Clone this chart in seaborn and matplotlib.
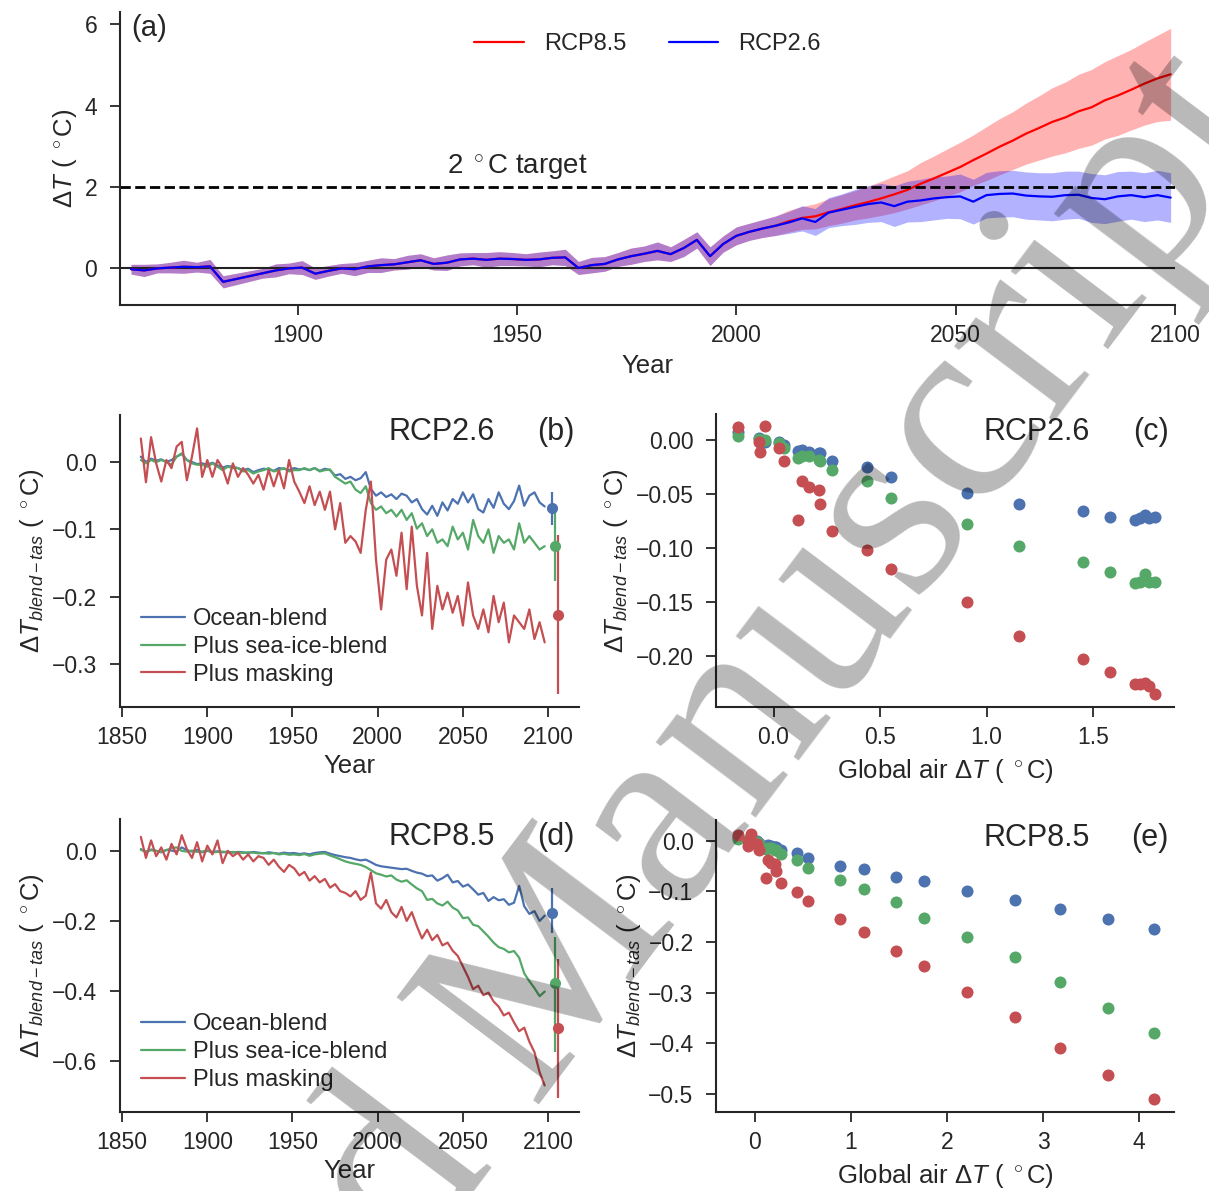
import numpy as np
import matplotlib
matplotlib.use('Agg')
import matplotlib.pyplot as plt
import seaborn as sns

# ---------------- data ----------------
# (a) global mean air temperature change, every 3rd year
years_a = np.arange(1862, 2101, 3)          # 1862 ... 2099
hist_mean = [-0.02, -0.05, 0.00, 0.02, 0.04, 0.03, 0.05, -0.33, -0.26, -0.19,
             -0.12, -0.05, 0.00, 0.02, -0.13, -0.06, 0.00, -0.02, 0.05, 0.08,
             0.10, 0.15, 0.20, 0.11, 0.14, 0.22, 0.24, 0.21, 0.24, 0.23,
             0.21, 0.22, 0.26, 0.27, 0.01, 0.08, 0.11, 0.22, 0.30, 0.36,
             0.43, 0.35, 0.50, 0.70, 0.30, 0.60, 0.80, 0.90, 0.98]
hist_spread = [0.12, 0.15, 0.11, 0.13, 0.16, 0.12, 0.17, 0.15, 0.14, 0.13,
               0.12, 0.16, 0.13, 0.17, 0.14, 0.13, 0.12, 0.16, 0.15, 0.18,
               0.14, 0.17, 0.16, 0.15, 0.19, 0.16, 0.15, 0.18, 0.17, 0.16,
               0.15, 0.18, 0.17, 0.20, 0.16, 0.19, 0.18, 0.17, 0.20, 0.19,
               0.22, 0.18, 0.21, 0.20, 0.23, 0.20, 0.22, 0.21, 0.22]
rcp85_mean = [1.05, 1.16, 1.24, 1.28, 1.38, 1.46, 1.55, 1.63, 1.72, 1.82,
              1.93, 2.08, 2.21, 2.35, 2.49, 2.66, 2.82, 2.99, 3.14, 3.31,
              3.45, 3.60, 3.71, 3.86, 3.96, 4.13, 4.25, 4.39, 4.54, 4.67, 4.77]
rcp85_spread = [0.24, 0.27, 0.28, 0.31, 0.33, 0.35, 0.36, 0.39, 0.42, 0.45,
                0.47, 0.52, 0.55, 0.58, 0.61, 0.62, 0.66, 0.69, 0.71, 0.75,
                0.79, 0.84, 0.87, 0.91, 0.93, 0.95, 0.98, 0.99, 1.02, 1.06, 1.13]
rcp26_mean = [1.05, 1.13, 1.23, 1.14, 1.37, 1.44, 1.51, 1.58, 1.62, 1.53,
              1.64, 1.67, 1.72, 1.75, 1.77, 1.64, 1.80, 1.83, 1.84, 1.79,
              1.77, 1.76, 1.80, 1.81, 1.73, 1.70, 1.77, 1.80, 1.75, 1.80, 1.74]
rcp26_spread = [0.24, 0.27, 0.31, 0.33, 0.37, 0.39, 0.43, 0.45, 0.47, 0.50,
                0.50, 0.52, 0.53, 0.52, 0.55, 0.55, 0.56, 0.57, 0.57, 0.58,
                0.58, 0.59, 0.59, 0.58, 0.60, 0.60, 0.61, 0.59, 0.60, 0.61, 0.61]

# (b), (d) blended minus air temperature, every 3rd year
years_bd = np.arange(1861, 2100, 3)         # 1861 ... 2098
labels_bd = ['Ocean-blend', 'Plus sea-ice-blend', 'Plus masking']
b_ocean = [0.008, 0.000, 0.005, 0.002, 0.004, 0.000, 0.003, 0.008, 0.012, 0.003,
           0.000, -0.003, -0.002, -0.004, -0.001, -0.005, -0.008, -0.006, -0.007, -0.009,
           -0.012, -0.010, -0.015, -0.012, -0.010, -0.011, -0.013, -0.009, -0.010, -0.012,
           -0.009, -0.011, -0.010, -0.012, -0.009, -0.013, -0.010, -0.012, -0.020, -0.018,
           -0.025, -0.022, -0.027, -0.024, -0.015, -0.040, -0.050, -0.045, -0.052, -0.048,
           -0.055, -0.047, -0.050, -0.060, -0.055, -0.070, -0.078, -0.065, -0.080, -0.060,
           -0.072, -0.055, -0.062, -0.045, -0.060, -0.048, -0.070, -0.075, -0.055, -0.068,
           -0.045, -0.062, -0.070, -0.058, -0.035, -0.065, -0.050, -0.045, -0.060, -0.066]
b_seaice = [0.003, -0.002, 0.003, 0.000, 0.003, 0.000, -0.004, 0.008, 0.013, 0.003,
            -0.002, -0.004, -0.004, -0.007, -0.002, -0.007, -0.012, -0.007, -0.009, -0.009,
            -0.014, -0.012, -0.017, -0.014, -0.012, -0.009, -0.014, -0.012, -0.009, -0.014,
            -0.012, -0.012, -0.009, -0.012, -0.009, -0.014, -0.012, -0.011, -0.022, -0.027,
            -0.032, -0.029, -0.041, -0.046, -0.036, -0.061, -0.071, -0.066, -0.076, -0.071,
            -0.081, -0.071, -0.086, -0.076, -0.099, -0.091, -0.110, -0.100, -0.120, -0.115,
            -0.125, -0.096, -0.115, -0.105, -0.130, -0.086, -0.110, -0.120, -0.100, -0.135,
            -0.110, -0.120, -0.115, -0.130, -0.091, -0.120, -0.110, -0.120, -0.130, -0.125]
b_mask = [0.035, -0.030, 0.037, -0.002, -0.029, 0.003, -0.009, 0.023, 0.030, -0.027,
          0.008, 0.050, -0.022, 0.003, -0.022, 0.003, -0.009, -0.032, -0.002, -0.022,
          -0.009, -0.019, -0.032, -0.019, -0.041, -0.012, -0.036, -0.012, -0.039, 0.003,
          -0.029, -0.044, -0.061, -0.036, -0.064, -0.044, -0.071, -0.044, -0.100, -0.061,
          -0.120, -0.110, -0.118, -0.135, -0.071, -0.029, -0.145, -0.219, -0.145, -0.130,
          -0.169, -0.105, -0.189, -0.096, -0.184, -0.228, -0.135, -0.248, -0.184, -0.219,
          -0.194, -0.224, -0.199, -0.243, -0.179, -0.228, -0.248, -0.219, -0.253, -0.199,
          -0.238, -0.209, -0.268, -0.228, -0.238, -0.248, -0.219, -0.263, -0.238, -0.268]
d_ocean = [0.005, -0.003, 0.004, 0.000, -0.004, 0.003, 0.001, -0.002, 0.010, 0.002,
           -0.002, 0.003, -0.004, 0.000, -0.003, -0.001, -0.004, -0.002, -0.005, -0.003,
           -0.004, -0.006, -0.003, -0.005, -0.007, -0.004, -0.006, -0.008, -0.005, -0.007,
           -0.006, -0.009, -0.007, -0.010, -0.006, -0.004, -0.003, -0.008, -0.012, -0.015,
           -0.018, -0.020, -0.024, -0.027, -0.025, -0.032, -0.040, -0.044, -0.046, -0.048,
           -0.050, -0.052, -0.051, -0.057, -0.062, -0.065, -0.072, -0.070, -0.085, -0.078,
           -0.068, -0.090, -0.086, -0.102, -0.096, -0.110, -0.125, -0.120, -0.143, -0.132,
           -0.141, -0.138, -0.154, -0.148, -0.100, -0.158, -0.180, -0.172, -0.200, -0.185]
d_seaice = [0.003, -0.002, 0.002, 0.000, -0.003, 0.002, 0.008, 0.010, 0.000, -0.002,
            0.001, -0.003, -0.002, 0.002, -0.004, -0.003, -0.002, -0.005, -0.003, -0.004,
            -0.006, -0.004, -0.005, -0.007, -0.006, -0.008, -0.006, -0.010, -0.008, -0.011,
            -0.010, -0.012, -0.009, -0.014, -0.010, -0.008, -0.007, -0.013, -0.018, -0.024,
            -0.030, -0.034, -0.037, -0.040, -0.046, -0.055, -0.064, -0.068, -0.073, -0.070,
            -0.082, -0.088, -0.084, -0.096, -0.107, -0.115, -0.140, -0.137, -0.150, -0.156,
            -0.145, -0.162, -0.170, -0.192, -0.190, -0.211, -0.215, -0.230, -0.245, -0.262,
            -0.275, -0.280, -0.290, -0.286, -0.305, -0.350, -0.372, -0.392, -0.415, -0.402]
d_mask = [0.040, -0.020, 0.030, -0.015, 0.010, -0.025, 0.020, -0.010, 0.045, 0.005,
          -0.020, 0.025, -0.030, 0.015, -0.010, 0.030, -0.035, 0.000, -0.015, -0.005,
          -0.025, -0.010, -0.030, -0.015, -0.020, -0.040, -0.025, -0.045, -0.060, -0.040,
          -0.050, -0.070, -0.060, -0.085, -0.072, -0.090, -0.080, -0.105, -0.095, -0.115,
          -0.120, -0.130, -0.115, -0.140, -0.128, -0.062, -0.150, -0.165, -0.140, -0.175,
          -0.190, -0.160, -0.200, -0.175, -0.215, -0.250, -0.225, -0.255, -0.240, -0.270,
          -0.262, -0.285, -0.300, -0.330, -0.360, -0.395, -0.385, -0.412, -0.405, -0.430,
          -0.445, -0.470, -0.462, -0.490, -0.515, -0.505, -0.545, -0.575, -0.632, -0.670]

# end-of-century mean and range (dot + bar right of the lines)
end_x = [2102, 2104, 2106]
b_end = [-0.069, -0.125, -0.227]
b_end_lo = [0.024, 0.052, 0.117]
b_end_hi = [0.024, 0.054, 0.119]
d_end = [-0.176, -0.378, -0.507]
d_end_lo = [0.059, 0.197, 0.200]
d_end_hi = [0.069, 0.133, 0.198]

# (c), (e) decadal means against global air warming
hist_x = [-0.168, -0.067, -0.064, -0.042, 0.027, 0.049, 0.115, 0.135, 0.168, 0.212, 0.220, 0.275, 0.441, 0.552]
hist_ocean = [0.008, 0.002, 0.000, -0.001, -0.001, -0.004, -0.010, -0.009, -0.0105, -0.012, -0.012, -0.019, -0.025, -0.0335]
hist_seaice = [0.004, 0.001, -0.001, 0.000, -0.002, -0.007, -0.016, -0.0145, -0.014, -0.018, -0.019, -0.027, -0.0377, -0.053]
hist_mask = [0.012, -0.001, -0.011, 0.013, -0.007, -0.019, -0.074, -0.038, -0.0435, -0.046, -0.059, -0.084, -0.1016, -0.119]
c_x = [0.910, 1.154, 1.455, 1.582, 1.697, 1.720, 1.742, 1.763, 1.789]
c_ocean = [-0.049, -0.059, -0.0654, -0.0713, -0.0735, -0.072, -0.069, -0.0715, -0.071]
c_seaice = [-0.0778, -0.0975, -0.113, -0.122, -0.132, -0.131, -0.124, -0.131, -0.1315]
c_mask = [-0.150, -0.181, -0.203, -0.215, -0.226, -0.226, -0.225, -0.228, -0.235]
e_x = [0.885, 1.14, 1.468, 1.766, 2.21, 2.71, 3.18, 3.67, 4.15]
e_ocean = [-0.049, -0.056, -0.071, -0.0805, -0.100, -0.118, -0.135, -0.154, -0.174]
e_seaice = [-0.078, -0.095, -0.121, -0.152, -0.191, -0.230, -0.279, -0.330, -0.379]
e_mask = [-0.154, -0.181, -0.217, -0.248, -0.299, -0.348, -0.409, -0.463, -0.511]

# ---------------- style ----------------
sns.set_style('ticks')
plt.rcParams['font.family'] = ['Liberation Sans', 'DejaVu Sans']
plt.rcParams['mathtext.fontset'] = 'custom'
plt.rcParams['mathtext.rm'] = 'Liberation Sans'
plt.rcParams['mathtext.it'] = 'Liberation Sans:italic'
plt.rcParams['mathtext.bf'] = 'Liberation Sans:bold'
plt.rcParams['axes.linewidth'] = 1.5
plt.rcParams['xtick.major.size'] = 7
plt.rcParams['ytick.major.size'] = 7
plt.rcParams['xtick.major.width'] = 1.3
plt.rcParams['ytick.major.width'] = 1.3
plt.rcParams['xtick.major.pad'] = 6.5
plt.rcParams['ytick.major.pad'] = 9.5

deep = sns.color_palette('deep')
cols = [deep[0], deep[2], deep[3]]
TICK = 16.5
LAB = 18.5
dT_blend = r'$\Delta T_{blend-tas}$ ( $^\circ$C)'
dT_air = r'Global air $\Delta T$ ( $^\circ$C)'

fig = plt.figure(figsize=(12.09, 11.91), dpi=100)
ax_a = fig.add_axes([0.0993, 0.7439, 0.8726, 0.2460])
ax_b = fig.add_axes([0.0993, 0.4064, 0.3797, 0.2452])
ax_c = fig.add_axes([0.5926, 0.4064, 0.3784, 0.2460])
ax_d = fig.add_axes([0.0993, 0.0663, 0.3797, 0.2460])
ax_e = fig.add_axes([0.5926, 0.0663, 0.3784, 0.2452])

# ---------------- (a) ----------------
m85 = np.array(hist_mean + rcp85_mean)
s85 = np.array(hist_spread + rcp85_spread)
m26 = np.array(hist_mean + rcp26_mean)
s26 = np.array(hist_spread + rcp26_spread)
ax_a.fill_between(years_a, m85 - s85, m85 + s85, color='r', alpha=0.3, lw=0)
ax_a.fill_between(years_a, m26 - s26, m26 + s26, color='b', alpha=0.3, lw=0)
sns.lineplot(x=years_a, y=m85, color='r', lw=1.6, label='RCP8.5', ax=ax_a)
sns.lineplot(x=years_a, y=m26, color='b', lw=1.6, label='RCP2.6', ax=ax_a)
ax_a.axhline(0, color='#222222', lw=1.5, zorder=1)
ax_a.axhline(2, color='black', lw=2, ls='--')
ax_a.text(1950, 2.12, r'2 $^\circ$C target', ha='center', va='bottom', fontsize=20)
ax_a.text(0.011, 0.945, '(a)', transform=ax_a.transAxes, va='center', fontsize=21)
ax_a.set_xlim(1859.5, 2100)
ax_a.set_ylim(-0.9, 6.3)
ax_a.set_yticks([0, 2, 4, 6])
ax_a.set_xticks([1900, 1950, 2000, 2050, 2100])
ax_a.set_xlabel('Year', fontsize=LAB, labelpad=5)
ax_a.set_ylabel(r'$\Delta T$ ( $^\circ$C)', fontsize=LAB)
ax_a.legend(loc='upper center', ncol=2, frameon=False, fontsize=17,
            handlelength=2.1, handletextpad=0.85, columnspacing=1.8)

# ---------------- (b), (d) ----------------
for ax, series, ends, lo, hi, scen, tag, ylim in [
        (ax_b, [b_ocean, b_seaice, b_mask], b_end, b_end_lo, b_end_hi, 'RCP2.6', '(b)', (-0.364, 0.070)),
        (ax_d, [d_ocean, d_seaice, d_mask], d_end, d_end_lo, d_end_hi, 'RCP8.5', '(d)', (-0.746, 0.091))]:
    for i in range(3):
        sns.lineplot(x=years_bd, y=series[i], color=cols[i], lw=1.6, label=labels_bd[i], ax=ax)
        ax.errorbar(end_x[i], ends[i], yerr=[[lo[i]], [hi[i]]], fmt='o', color=cols[i],
                    ms=7, lw=1.6, capsize=0)
    ax.set_xlim(1848.8, 2118.2)
    ax.set_ylim(*ylim)
    ax.set_xticks([1850, 1900, 1950, 2000, 2050, 2100])
    ax.set_xlabel('Year', fontsize=LAB, labelpad=4)
    ax.set_ylabel(dT_blend, fontsize=LAB)
    ax.text(0.70, 0.94, scen, transform=ax.transAxes, ha='center', va='center', fontsize=22)
    ax.text(0.989, 0.94, tag, transform=ax.transAxes, ha='right', va='center', fontsize=22)
    ax.legend(loc='lower left', frameon=False, fontsize=17, handlelength=1.85,
              handletextpad=0.35, labelspacing=0.25)

# ---------------- (c), (e) ----------------
for ax, fx, fvals, scen, tag, xlim, ylim, xt, yt in [
        (ax_c, c_x, [c_ocean, c_seaice, c_mask], 'RCP2.6', '(c)', (-0.268, 1.88), (-0.247, 0.0245),
         [0, 0.5, 1, 1.5], [0, -0.05, -0.10, -0.15, -0.20]),
        (ax_e, e_x, [e_ocean, e_seaice, e_mask], 'RCP8.5', '(e)', (-0.396, 4.36), (-0.536, 0.041),
         [0, 1, 2, 3, 4], [0, -0.1, -0.2, -0.3, -0.4, -0.5])]:
    hvals = [hist_ocean, hist_seaice, hist_mask]
    for i in range(3):
        sns.scatterplot(x=hist_x + fx, y=hvals[i] + fvals[i], color=cols[i], s=75,
                        linewidth=0, ax=ax)
    ax.set_xlim(*xlim)
    ax.set_ylim(*ylim)
    ax.set_xticks(xt)
    ax.set_yticks(yt)
    ax.set_xlabel(dT_air, fontsize=LAB, labelpad=6)
    ax.set_ylabel(dT_blend, fontsize=LAB)
    ax.text(0.70, 0.94, scen, transform=ax.transAxes, ha='center', va='center', fontsize=22)
    ax.text(0.989, 0.94, tag, transform=ax.transAxes, ha='right', va='center', fontsize=22)

for ax in [ax_a, ax_b, ax_c, ax_d, ax_e]:
    sns.despine(ax=ax)
    ax.tick_params(labelsize=TICK)

# publisher watermark
fig.text(0.478, 0.116, 'Accepted Manuscript', fontsize=195, family='Liberation Serif',
         color='black', alpha=0.28, rotation=53, rotation_mode='anchor',
         ha='center', va='baseline')

fig.savefig('out.png', dpi=100)
